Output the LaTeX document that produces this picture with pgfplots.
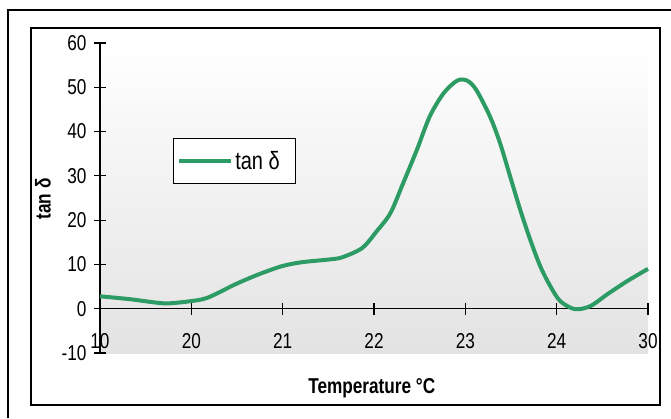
\documentclass[border=0pt]{standalone}
\usepackage{pgfplots}
\pgfplotsset{compat=1.18}
\usepackage{fontspec}
\setmainfont{Liberation Sans}[FakeStretch=0.8]
\definecolor{curve}{RGB}{45,155,100}

\begin{document}
\begin{tikzpicture}
\path[use as bounding box] (0pt,0pt) rectangle (671pt,418pt);
% outer and inner frames
\draw[line width=1.3pt] (8pt,0pt) -- (8pt,408pt) -- (671pt,408pt);
\draw[line width=2.6pt] (31pt,13pt) rectangle (660pt,390pt);

\begin{axis}[
    at={(100pt,65pt)}, anchor=south west,
    scale only axis, width=548pt, height=310pt,
    xmin=0, xmax=6, ymin=-10, ymax=60,
    axis x line=middle, axis y line=left,
    hide obscured x ticks=false, hide obscured y ticks=false,
    axis line style={-, line width=1.1pt},
    tick style={black, line width=1.1pt},
    tick align=center, major tick length=12pt,
    xtick={0,...,6},
    xticklabels={10,20,21,22,23,24,30},
    ytick={-10,0,...,60},
    font=\fontsize{21.5}{25}\selectfont,
    /pgf/number format/assume math mode=true,
    xticklabel style={yshift=-15pt},
    yticklabel style={xshift=-4pt},
    axis background/.style={shade, top color=white, bottom color=black!11},
    xlabel={\bfseries Temperature °C},
    ylabel={\bfseries tan δ},
    xlabel style={at={(axis description cs:0.496,-0.113)}, anchor=center},
    ylabel style={at={(axis description cs:-0.104,0.497)}, anchor=center},
    legend style={at={(axis description cs:0.133,0.694)}, anchor=north west,
        draw=black, fill=white, line width=0.8pt, inner xsep=4pt, inner ysep=11pt,
        font=\fontsize{25}{28}\selectfont},
    legend image code/.code={\draw[#1, line width=4pt] (0pt,0pt) -- (52pt,0pt);},
    clip=false,
]
\addplot[curve, line width=4pt, smooth, tension=0.5] coordinates {
    (0,2.8) (0.16,2.5) (0.35,2.1) (0.53,1.6) (0.73,1.2) (0.99,1.7)
    (1.18,2.5) (1.48,5.5) (1.73,7.7) (1.99,9.6) (2.21,10.5) (2.5,11.1)
    (2.65,11.6) (2.87,13.7) (3.03,17.5) (3.18,21.6) (3.32,28.4) (3.47,35.9)
    (3.61,43.4) (3.76,48.6) (3.91,51.5) (4.02,51.5) (4.12,49.4) (4.27,43.4)
    (4.38,37.4) (4.49,29.9) (4.6,22.4) (4.71,15.6) (4.82,9.6) (4.93,5.1)
    (5.04,1.7) (5.2,-0.1) (5.37,0.6) (5.55,3.2) (5.77,6.2) (6,9.0)
};
\addlegendentry{tan δ\rule{10pt}{0pt}}
\end{axis}
\end{tikzpicture}
\end{document}
